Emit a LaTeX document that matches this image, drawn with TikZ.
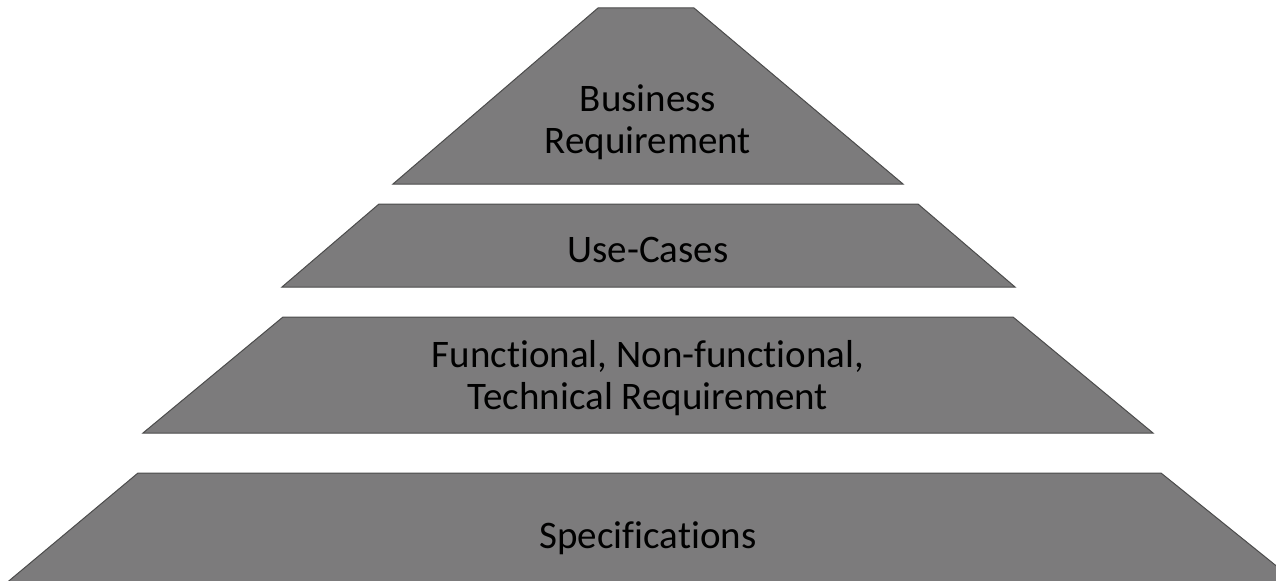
\documentclass[tikz,border=0pt]{standalone}
\usepackage{fontspec}
\setmainfont{Carlito}[Ligatures=NoCommon]
\definecolor{pyrgray}{RGB}{124,123,124}

\begin{document}
\begin{tikzpicture}[x=0.5pt, y=0.5pt]
        \tikzstyle{layer}=[fill=pyrgray, draw=black!70, line width=0.5pt]
        \tikzstyle{tiertext}=[align=center, text=black, inner sep=0pt, font=\fontsize{19.5}{21}\selectfont]

        \useasboundingbox (0,0) rectangle (1276,580);
        \clip (0,0) rectangle (1276,580);

        % pyramid tiers, top to bottom
        \draw[layer] (598,572) -- (694,572) -- (903,396) -- (393,396) -- cycle;
        \draw[layer] (379,376) -- (918,376) -- (1015,293) -- (282,293) -- cycle;
        \draw[layer] (283,263) -- (1013,263) -- (1153,147) -- (143,147) -- cycle;
        \draw[layer] (138,107) -- (1161,107) -- (1300,-5) -- (4,-5) -- cycle;

        \node[tiertext] (business) at (648,458) {Business\\Requirement};
        \node[tiertext] (usecases) at (648,330) {Use-Cases};
        \node[tiertext] (funcreq) at (648,202) {Functional, Non-functional,\\Technical Requirement};
        \node[tiertext] (specs) at (648,42) {Specifications};
\end{tikzpicture}
\end{document}
